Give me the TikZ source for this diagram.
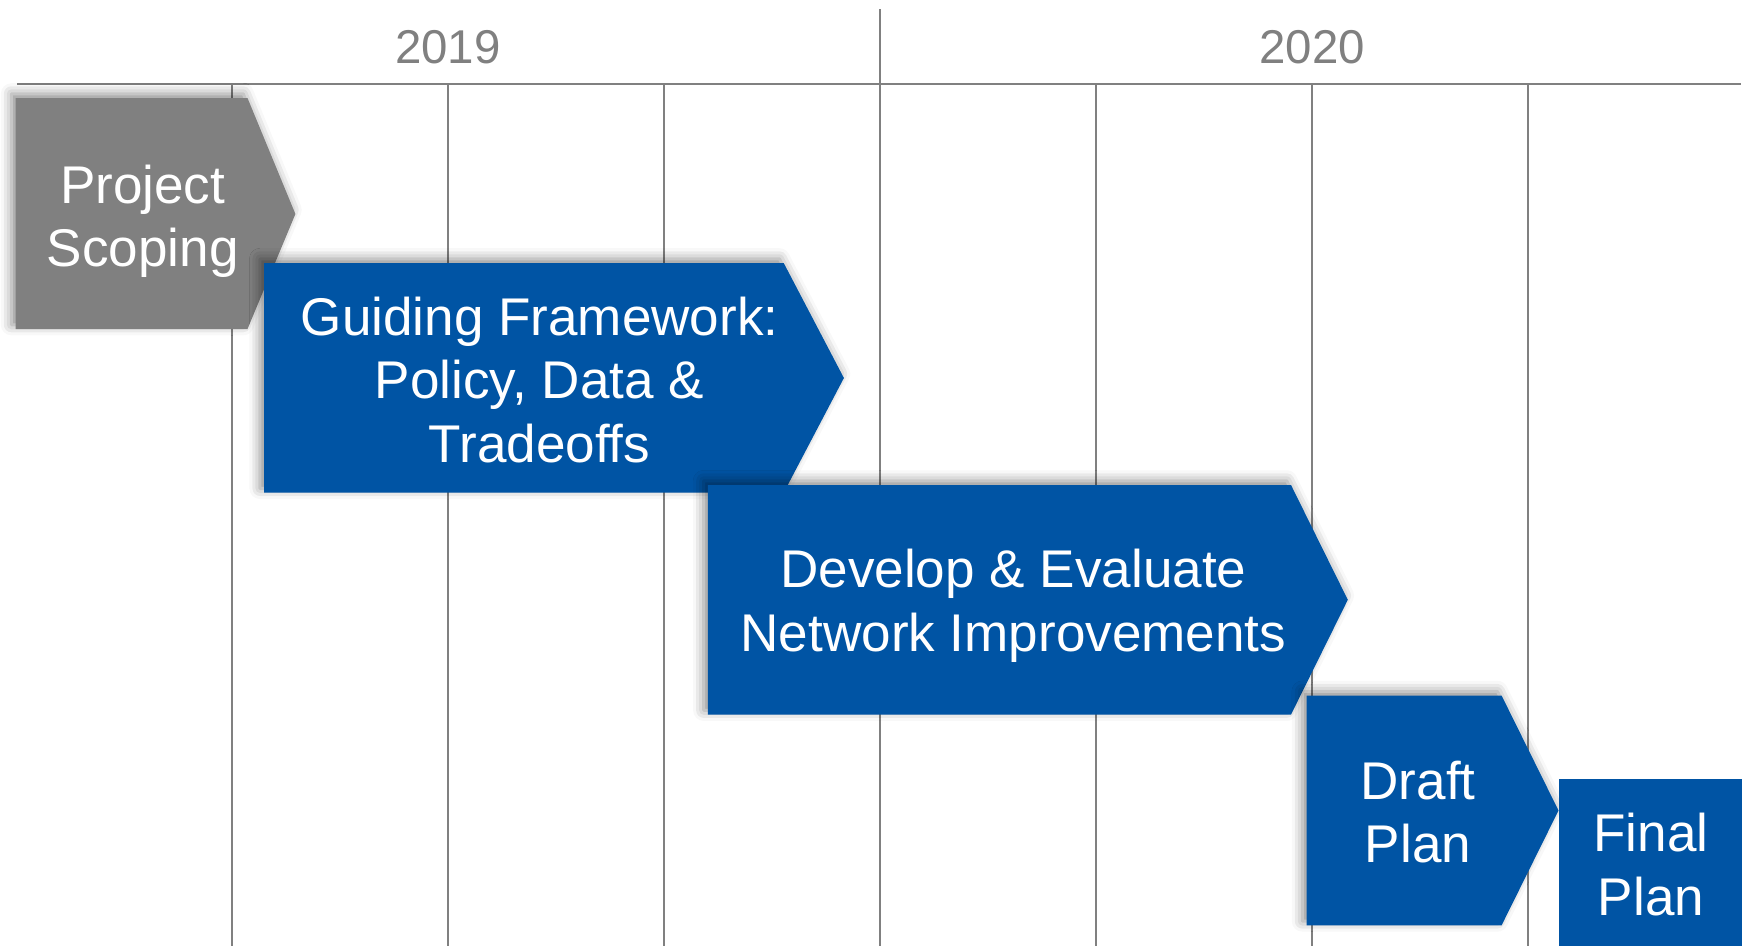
\documentclass[tikz,border=0pt]{standalone}
\usepackage{fontspec}
\setmainfont{Liberation Sans}
\usetikzlibrary{shadows.blur}
\definecolor{phaseblue}{RGB}{0,84,164}
\definecolor{phasegray}{RGB}{128,128,128}
\definecolor{gridgray}{RGB}{128,128,128}
\tikzset{
  grid line/.style={draw=gridgray, line width=0.15mm},
  chevron/.style={fill=#1, blur shadow={shadow xshift=-1.2pt, shadow yshift=1.2pt, shadow blur radius=3pt, shadow opacity=45}},
  phase text/.style={text=white, align=center, font=\fontsize{15.1}{18.1}\selectfont, inner sep=0pt},
  year text/.style={text=phasegray, font=\fontsize{13.5}{16}\selectfont, inner sep=0pt}
}
\begin{document}
\begin{tikzpicture}[x=0.1mm,y=-0.1mm]
\useasboundingbox (0,0) rectangle (1748,946);
% timeline axis
\coordinate (axL) at (17,84);
\coordinate (axR) at (1741,84);
\draw[grid line] (axL) -- (axR);
\coordinate (divtop) at (880,9);
\coordinate (divbot) at (880,946);
\draw[grid line] (divtop) -- (divbot);
\foreach \x/\n in {232/a,448/b,664/c,1096/d,1312/e,1528/f}{
  \coordinate (g\n t) at (\x,84);
  \coordinate (g\n b) at (\x,946);
  \draw[grid line] (g\n t) -- (g\n b);
}
\node[year text] (y2019) at (448,47) {2019};
\node[year text] (y2020) at (1312,47) {2020};
% Project Scoping
\fill[chevron=phasegray] (15.6,98) -- (247.5,98) -- (295.4,214) -- (247.5,329) -- (15.6,329) -- cycle;
\node[phase text] (scoping) at (142.7,221.3) {Project\\Scoping};
% Guiding Framework
\fill[chevron=phaseblue] (264.2,263) -- (783.7,263) -- (843.9,378) -- (783.7,492.7) -- (264.2,492.7) -- cycle;
\node[phase text] (framework) at (539.6,380) {Guiding Framework:\\Policy, Data \&\\Tradeoffs};
% Develop & Evaluate
\fill[chevron=phaseblue] (707.9,485) -- (1291,485) -- (1347.8,599.8) -- (1291,714.6) -- (707.9,714.6) -- cycle;
\node[phase text] (develop) at (1013.4,605.9) {Develop \& Evaluate\\Network Improvements};
% Draft Plan
\fill[chevron=phaseblue] (1306.5,695.6) -- (1501.6,695.6) -- (1558.5,810.5) -- (1501.6,925.3) -- (1306.5,925.3) -- cycle;
\node[phase text] (draft) at (1418,812) {Draft\\Plan};
% Final Plan
\fill[phaseblue] (1558.5,779.2) rectangle (1742.4,946);
\node[phase text] (final) at (1651,864.5) {Final\\Plan};
\end{tikzpicture}
\end{document}
